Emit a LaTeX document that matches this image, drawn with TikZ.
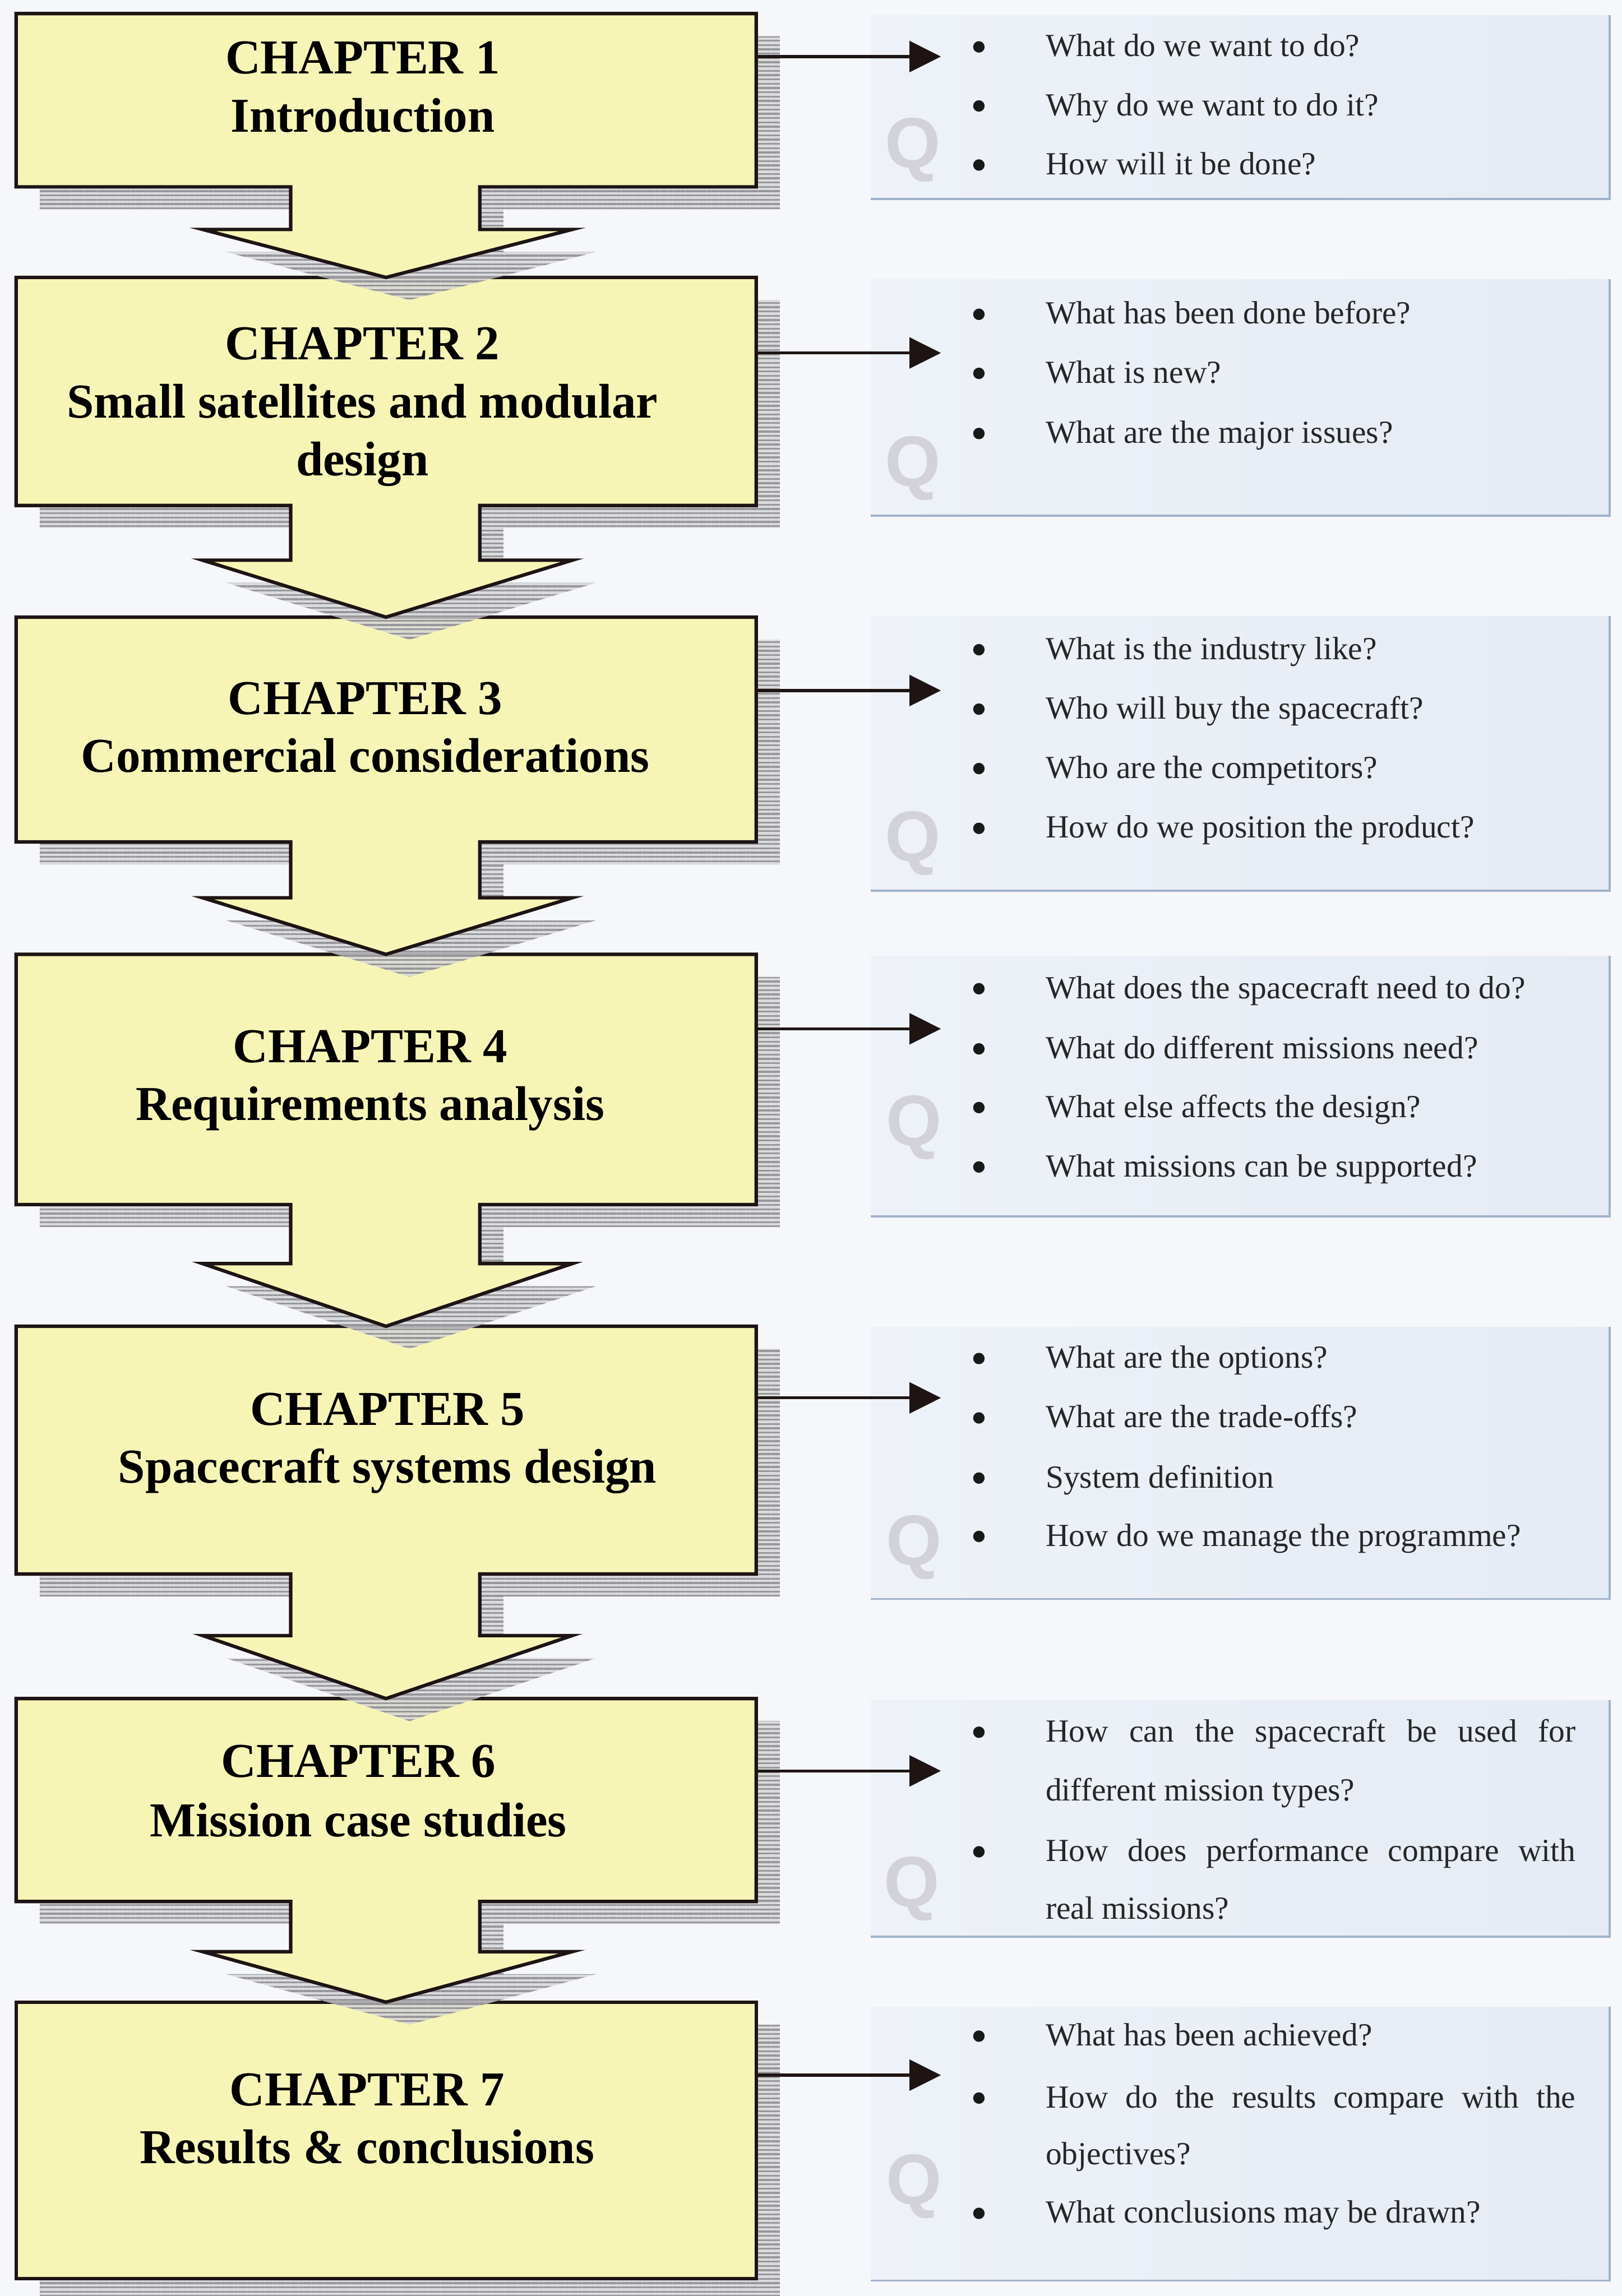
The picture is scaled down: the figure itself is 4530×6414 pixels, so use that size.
\documentclass[tikz,border=0pt]{standalone}
\usepackage{fontspec}
\setmainfont{Liberation Serif}
\newfontfamily\qfont{Liberation Sans}
\usetikzlibrary{arrows.meta,patterns.meta,fit}

\definecolor{pagebg}{RGB}{246,247,250}
\definecolor{boxfill}{RGB}{247,245,182}
\definecolor{boxline}{RGB}{30,20,20}
\definecolor{panelL}{RGB}{238,242,248}
\definecolor{panelR}{RGB}{229,235,244}
\definecolor{paneledge}{RGB}{160,178,202}
\definecolor{shadowbase}{RGB}{212,212,215}
\definecolor{shadowline}{RGB}{150,150,155}
\definecolor{qgray}{RGB}{210,210,216}

\tikzset{
  chshadow/.style={fill=shadowbase, fill opacity=0.8,
    postaction={pattern={Lines[angle=0,distance=3pt,line width=1.3pt]},
                pattern color=shadowline, fill opacity=0.8}},
  chbox/.style={fill=boxfill, draw=boxline, line width=2.4pt, line join=miter},
  chtext/.style={anchor=base, inner sep=0pt, font=\fontsize{34}{40}\selectfont\bfseries},
  panelbox/.style={inner sep=0pt, left color=panelL, right color=panelR},
  paneledgeline/.style={draw=paneledge, line width=1.5pt},
  qtext/.style={anchor=base west, inner sep=0pt, font=\fontsize{22.5}{28}\selectfont, text=black!85},
  bul/.style={circle, fill=black!90, inner sep=0pt, minimum size=8pt},
  qmark/.style={inner sep=0pt, text=qgray, font=\qfont\bfseries\fontsize{50}{50}\selectfont},
  conn/.style={draw=boxline, line width=2.1pt, -{Triangle[length=22pt,width=21.5pt]}},
}

% chapter box with a down arrow below it: name, top, bottom, wing y, tip y
\newcommand\chapshape[5]{%
  \path[chshadow, shift={(66,63)}] (45,#2) -- (2112,#2) -- (2112,#3) -- (1340,#3)
     -- (1340,#4) -- (1598,#4) -- (1078,#5) -- (566,#4) -- (812,#4) -- (812,#3)
     -- (45,#3) -- cycle;
  \path[chbox] (45,#2) -- (2112,#2) -- (2112,#3) -- (1340,#3)
     -- (1340,#4) -- (1598,#4) -- (1078,#5) -- (566,#4) -- (812,#4) -- (812,#3)
     -- (45,#3) -- cycle;
  \node[fit={(45,#2)(2112,#3)}, inner sep=0pt] (#1) {};
}
% last chapter box, without an arrow: name, top, bottom
\newcommand\chaplast[3]{%
  \path[chshadow, shift={(66,63)}] (45,#2) rectangle (2112,#3);
  \path[chbox] (45,#2) rectangle (2112,#3);
  \node[fit={(45,#2)(2112,#3)}, inner sep=0pt] (#1) {};
}
% question panel: name, top, bottom
\newcommand\qpanel[3]{%
  \node[panelbox, fit={(2432,#2)(4495,#3)}] (#1) {};
  \draw[paneledgeline] (#1.north east) -- (#1.south east) -- (#1.south west);
}
% bulleted question line and continuation line
\newcommand\qline[3]{%
  \node[bul] (#1b) at (2734,#2-27) {};
  \node[qtext] (#1) at (2920,#2) {#3};
}
\newcommand\qcont[3]{\node[qtext] (#1) at (2920,#2) {#3};}
\newcommand\just[1]{\makebox[370pt][s]{#1}}

\begin{document}
\begin{tikzpicture}[x=0.25pt, y=-0.25pt]
  \useasboundingbox (0,0) rectangle (4530,6414);
  \fill[pagebg] (0,0) rectangle (4530,6414);

  % question panels
  \qpanel{p1}{43}{555}
  \qpanel{p2}{780}{1440}
  \qpanel{p3}{1721}{2487}
  \qpanel{p4}{2670}{3397}
  \qpanel{p5}{3708}{4466}
  \qpanel{p6}{4750}{5410}
  \qpanel{p7}{5607}{6370}

  % faint Q marks
  \node[qmark] (qm1) at (2550,419) {Q};
  \node[qmark] (qm2) at (2550,1308) {Q};
  \node[qmark] (qm3) at (2550,2356) {Q};
  \node[qmark] (qm4) at (2553,3150) {Q};
  \node[qmark] (qm5) at (2553,4322) {Q};
  \node[qmark] (qm6) at (2546,5277) {Q};
  \node[qmark] (qm7) at (2553,6107) {Q};

  % chapter boxes, drawn bottom-up so each arrow lies over the next box
  \chaplast{ch7}{5593}{6365}
  \chapshape{ch6}{4745}{5312}{5452}{5593}
  \chapshape{ch5}{3705}{4397}{4569}{4745}
  \chapshape{ch4}{2666}{3365}{3530}{3705}
  \chapshape{ch3}{1724}{2352}{2508}{2666}
  \chapshape{ch2}{775}{1412}{1565}{1724}
  \chapshape{ch1}{38}{522}{641}{775}

  % chapter titles
  \node[chtext] (t1a) at (1013,206) {CHAPTER 1};
  \node[chtext] (t1b) at (1013,368) {Introduction};
  \node[chtext] (t2a) at (1012,1005) {CHAPTER 2};
  \node[chtext] (t2b) at (1012,1167) {Small satellites and modular};
  \node[chtext] (t2c) at (1012,1329) {design};
  \node[chtext] (t3a) at (1020,1995) {CHAPTER 3};
  \node[chtext] (t3b) at (1020,2157) {Commercial considerations};
  \node[chtext] (t4a) at (1034,2968) {CHAPTER 4};
  \node[chtext] (t4b) at (1034,3130) {Requirements analysis};
  \node[chtext] (t5a) at (1082,3982) {CHAPTER 5};
  \node[chtext] (t5b) at (1082,4143) {Spacecraft systems design};
  \node[chtext] (t6a) at (1001,4965) {CHAPTER 6};
  \node[chtext] (t6b) at (1001,5130) {Mission case studies};
  \node[chtext] (t7a) at (1025,5883) {CHAPTER 7};
  \node[chtext] (t7b) at (1025,6044) {Results \& conclusions};

  % questions
  \qline{q1a}{158}{What do we want to do?}
  \qline{q1b}{323}{Why do we want to do it?}
  \qline{q1c}{488}{How will it be done?}

  \qline{q2a}{905}{What has been done before?}
  \qline{q2b}{1070}{What is new?}
  \qline{q2c}{1238}{What are the major issues?}

  \qline{q3a}{1842}{What is the industry like?}
  \qline{q3b}{2008}{Who will buy the spacecraft?}
  \qline{q3c}{2174}{Who are the competitors?}
  \qline{q3d}{2341}{How do we position the product?}

  \qline{q4a}{2789}{What does the spacecraft need to do?}
  \qline{q4b}{2957}{What do different missions need?}
  \qline{q4c}{3121}{What else affects the design?}
  \qline{q4d}{3287}{What missions can be supported?}

  \qline{q5a}{3822}{What are the options?}
  \qline{q5b}{3988}{What are the trade-offs?}
  \qline{q5c}{4156}{System definition}
  \qline{q5d}{4319}{How do we manage the programme?}

  \qline{q6a}{4866}{\just{How can the spacecraft be used for}}
  \qcont{q6b}{5030}{different mission types?}
  \qline{q6c}{5200}{\just{How does performance compare with}}
  \qcont{q6d}{5361}{real missions?}

  \qline{q7a}{5715}{What has been achieved?}
  \qline{q7b}{5888}{\just{How do the results compare with the}}
  \qcont{q7c}{6046}{objectives?}
  \qline{q7d}{6210}{What conclusions may be drawn?}

  % connectors from chapters to their questions
  \coordinate (a1) at (2628,158);
  \coordinate (a2) at (2628,986);
  \coordinate (a3) at (2628,1929);
  \coordinate (a4) at (2628,2874);
  \coordinate (a5) at (2628,3905);
  \coordinate (a6) at (2628,4947);
  \coordinate (a7) at (2628,5797);
  \draw[conn] (ch1.east |- a1) -- (a1);
  \draw[conn] (ch2.east |- a2) -- (a2);
  \draw[conn] (ch3.east |- a3) -- (a3);
  \draw[conn] (ch4.east |- a4) -- (a4);
  \draw[conn] (ch5.east |- a5) -- (a5);
  \draw[conn] (ch6.east |- a6) -- (a6);
  \draw[conn] (ch7.east |- a7) -- (a7);
\end{tikzpicture}
\end{document}
